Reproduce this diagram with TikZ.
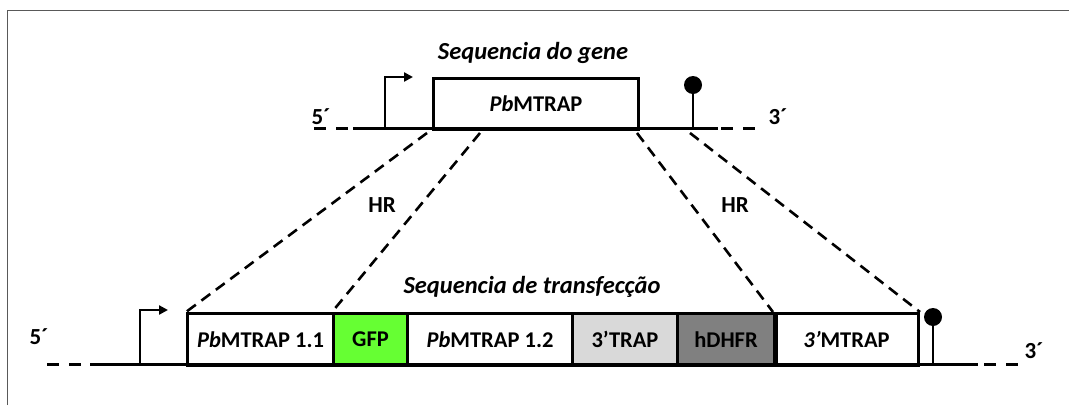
\documentclass[tikz,border=0pt]{standalone}
\usepackage{fontspec}
\setmainfont{Carlito}
\usetikzlibrary{arrows.meta}
\definecolor{gfpgreen}{HTML}{66FF33}
\definecolor{traplight}{HTML}{D9D9D9}
\definecolor{dhfrgray}{HTML}{808080}
\begin{document}
\begin{tikzpicture}[x=1pt,y=-1pt,line width=3pt,
  txt/.style={font=\fontsize{23}{27}\selectfont\bfseries,inner sep=0pt},
  ttl/.style={font=\fontsize{24.5}{28}\selectfont\bfseries\itshape,inner sep=0pt},
  seg/.style={draw,line width=3pt,minimum height=52pt,inner sep=0pt,anchor=north west,
    font=\fontsize{22.5}{26}\selectfont\bfseries},
  dashseg/.style={line width=3pt,dash pattern=on 12pt off 10pt},
  hr/.style={line width=2.6pt,dash pattern=on 11pt off 7pt},
  prom/.style={line width=2.4pt,-{Triangle[length=9pt,width=9pt]}},
  frame/.style={line width=1pt,draw=black!65}]
\useasboundingbox (0,0) rectangle (1069,405);
\draw[frame] (7,405) -- (7,10) -- (1069,10);

% ---------- top gene ----------
\node[ttl] (t1) at (533,53) {Sequencia do gene};
\node[seg,minimum width=205pt,minimum height=51pt] (gene) at (432,77) {\textit{Pb}MTRAP};
\coordinate (tl0) at (314,128);
\coordinate (tl1) at (348,128);
\coordinate (tl2) at (353,128);
\coordinate (tl3) at (718,128);
\coordinate (tl4) at (721,128);
\coordinate (tl5) at (755,128);
\draw[dashseg] (tl0) -- (tl1);
\draw (tl2) -- (tl3);
\draw[dashseg] (tl4) -- (tl5);
\node[txt] (f5t) at (321,117) {5´};
\node[txt] (f3t) at (778,117) {3´};
\coordinate (pt0) at (385,128);
\coordinate (pt1) at (413,77);
\draw[prom] (pt0) |- (pt1);
\coordinate (tt0) at (693,128);
\coordinate (tt1) at (693,85);
\draw[line width=2.4pt] (tt0) -- (tt1);
\fill (tt1) circle (9);

% ---------- bottom construct ----------
\node[ttl] (t2) at (532,287) {Sequencia de transfecção};
\node[seg,minimum width=146pt] (b1) at (186,312) {\textit{Pb}MTRAP 1.1};
\node[seg,minimum width=74pt,fill=gfpgreen] (b2) at (332,312) {GFP};
\node[seg,minimum width=165pt] (b3) at (406,312) {\textit{Pb}MTRAP 1.2};
\node[seg,minimum width=105pt,fill=traplight] (b4) at (571,312) {3’TRAP};
\node[seg,minimum width=97pt,fill=dhfrgray] (b5) at (676,312) {hDHFR};
\node[seg,minimum width=144pt] (b6) at (773,312) {\textit{3’}MTRAP};
\draw[line width=4.5pt] (b5.north east) -- (b5.south east);
\coordinate (bl0) at (47,364);
\coordinate (bl1) at (81,364);
\coordinate (bl2) at (90,364);
\coordinate (bl3) at (978,364);
\coordinate (bl4) at (984,364);
\coordinate (bl5) at (1018,364);
\draw[dashseg] (bl0) -- (bl1);
\draw (bl2) -- (bl3);
\draw[dashseg] (bl4) -- (bl5);
\node[txt] (f5b) at (39,337) {5´};
\node[txt] (f3b) at (1034,351) {3´};
\coordinate (pb0) at (140,364);
\coordinate (pb1) at (168,310);
\draw[prom] (pb0) |- (pb1);
\coordinate (tb0) at (933,364);
\coordinate (tb1) at (933,317);
\draw[line width=2.4pt] (tb0) -- (tb1);
\fill (tb1) circle (9);

% ---------- HR lines ----------
\coordinate (h1) at (427,133);
\coordinate (h2) at (480,133);
\coordinate (h3) at (637,133);
\coordinate (h4) at (690,133);
\draw[hr] (h1) -- (b1.north west);
\draw[hr] (h2) -- (b2.north west);
\draw[hr] (h3) -- (b6.north west);
\draw[hr] (h4) -- (b6.north east);
\node[txt] (hr1) at (382,205) {HR};
\node[txt] (hr2) at (735,205) {HR};
\end{tikzpicture}
\end{document}
